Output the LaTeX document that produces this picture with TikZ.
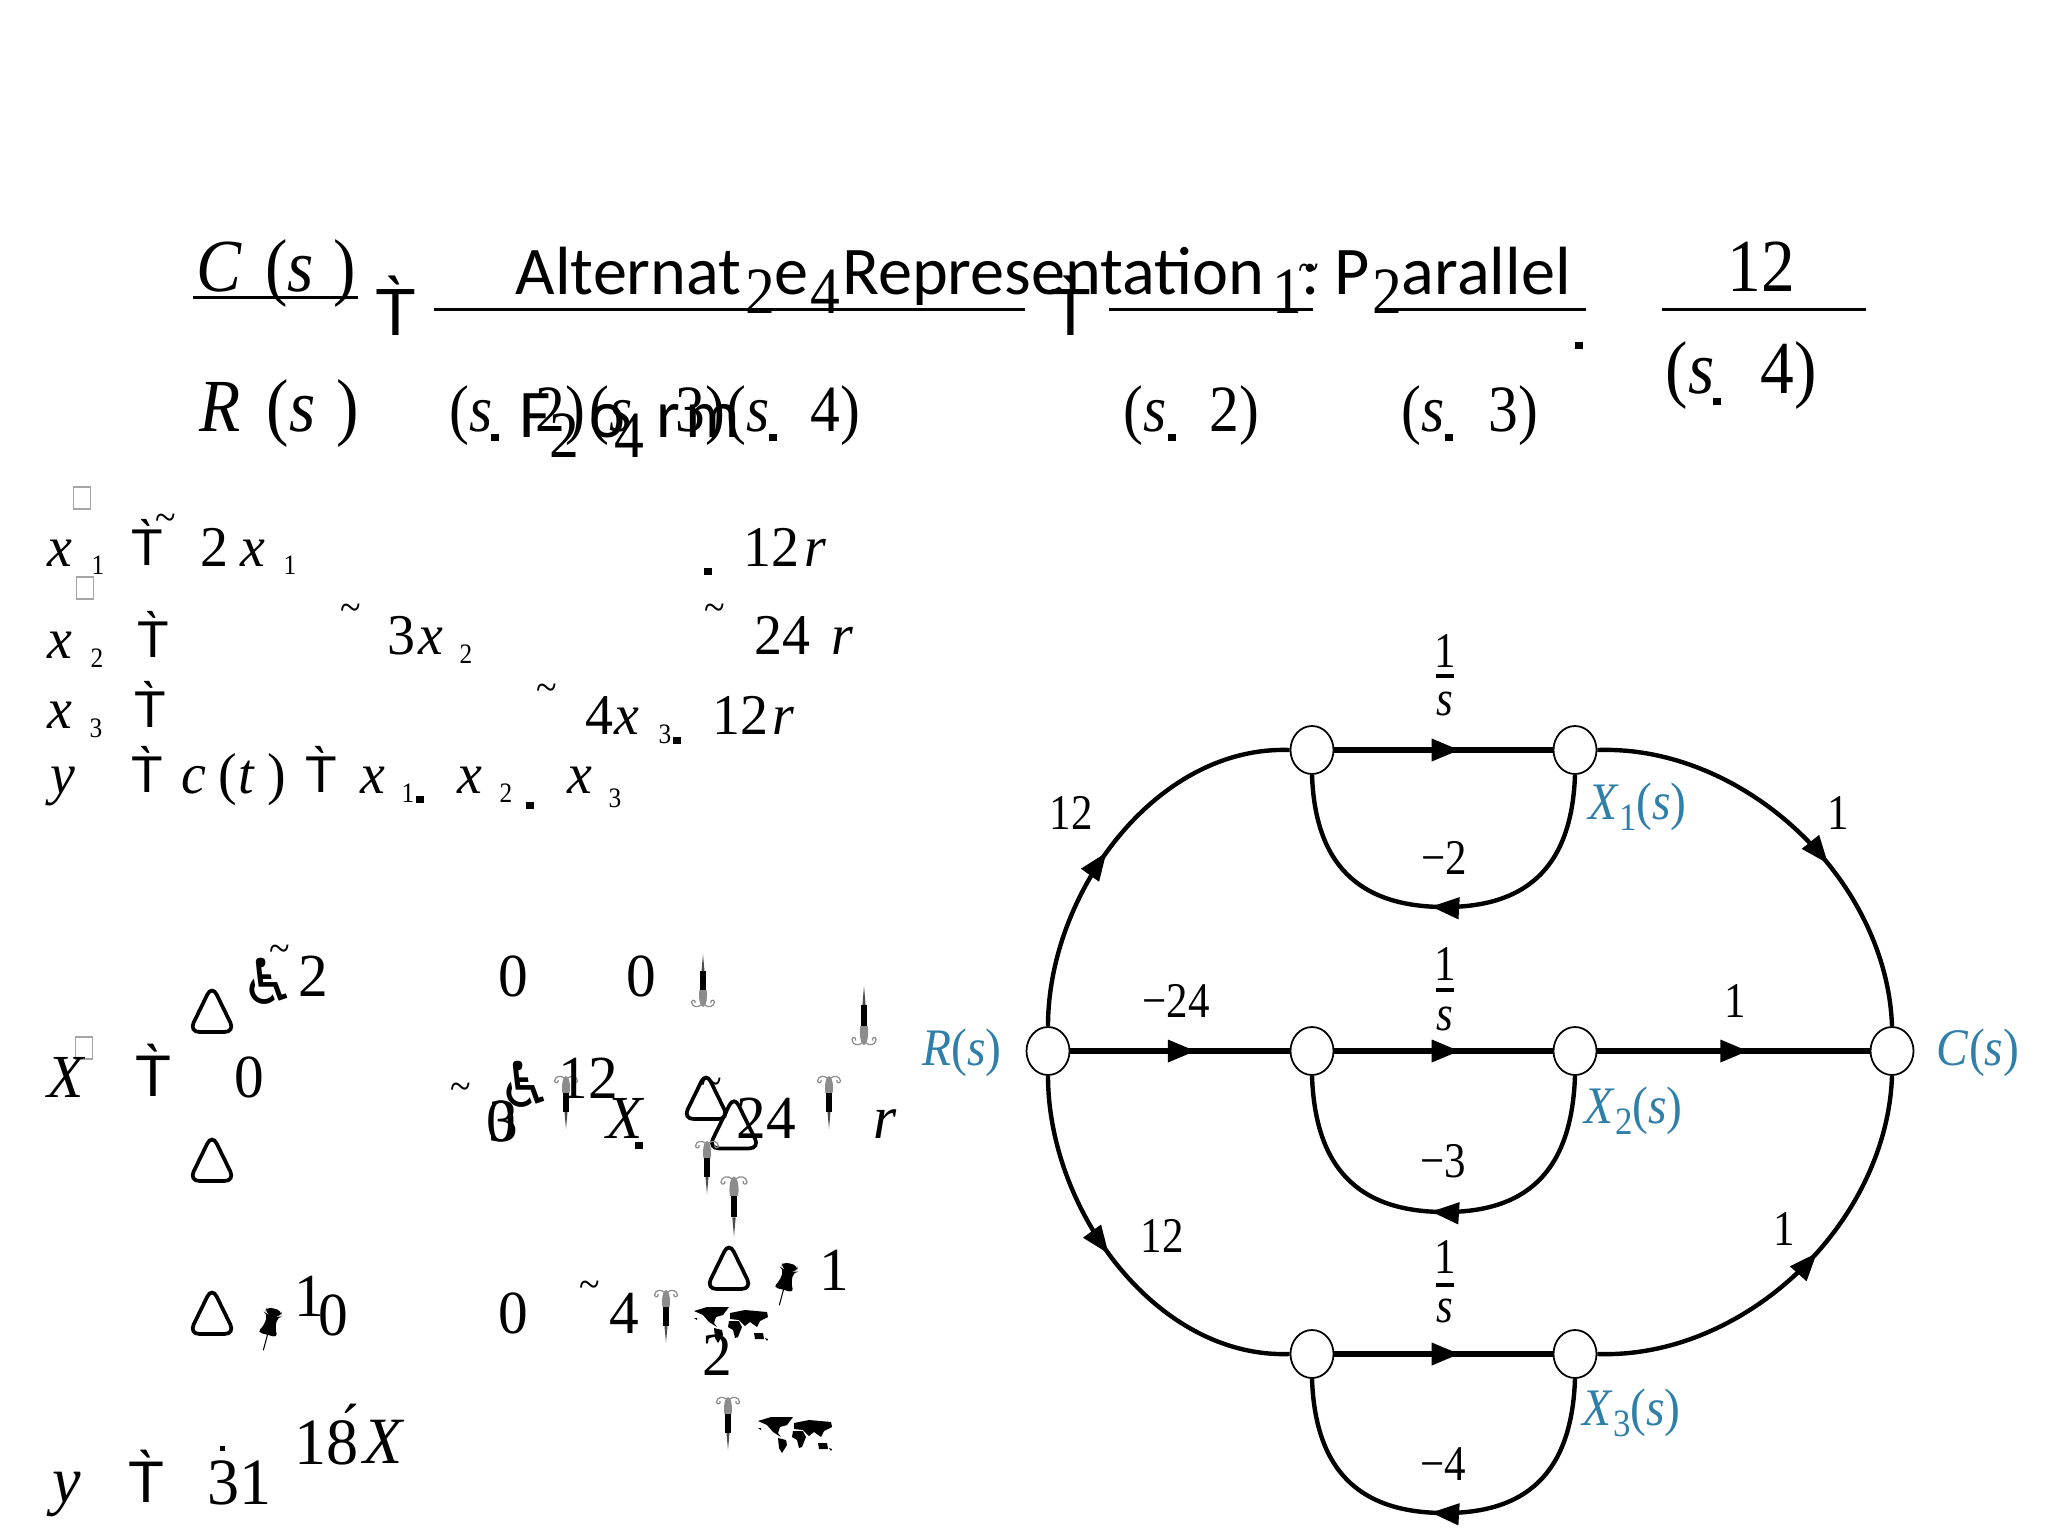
\documentclass[tikz,border=0pt]{standalone}
\usepackage{fontspec}
\usetikzlibrary{positioning, arrows.meta, decorations.markings, shapes.geometric}

\newfontfamily\eqfont[FakeStretch=0.9]{Liberation Serif}
\newfontfamily\eqwide[FakeStretch=0.97]{Liberation Serif}
\newfontfamily\gainfont[FakeStretch=0.86]{Liberation Serif}
\newfontfamily\slidefont{Carlito}
\newfontfamily\teefont{Liberation Sans}
\newfontfamily\symfont{DejaVu Sans}

\definecolor{siglabelblue}{HTML}{2F7FA8}

% one-over-s gain: name, x, baseline of the 1, bar, baseline of the s
\newcommand{\oversgain}[5]{%
  \node[gain, anchor=base] (#1one) at (#2,#3) {1};
  \node[gain, anchor=base] (#1s) at (#2,#5) {\textit{s}};
  \draw[line width=0.9pt] (#2-9,#4) -- (#2+9,#4);
}

\tikzset{
  eqa/.style={inner sep=0, anchor=base west, font=\eqfont\fontsize{21.3}{24}\selectfont},
  eqb/.style={inner sep=0, anchor=base west, font=\eqfont\fontsize{18.8}{22}\selectfont},
  eqc/.style={inner sep=0, anchor=base west, font=\eqwide\fontsize{16.4}{19}\selectfont},
  eqd/.style={inner sep=0, anchor=base west, font=\eqwide\fontsize{17.4}{20}\selectfont},
  eqe/.style={inner sep=0, anchor=base west, font=\eqwide\fontsize{18.8}{22}\selectfont},
  eqsub/.style={inner sep=0, anchor=base west, font=\eqfont\fontsize{8}{9}\selectfont},
  teea/.style={inner sep=0, anchor=base west, font=\teefont\fontsize{19}{24}\selectfont},
  teec/.style={inner sep=0, anchor=base west, font=\teefont\fontsize{14.7}{19}\selectfont},
  teed/.style={inner sep=0, anchor=base west, font=\teefont\fontsize{16.7}{22}\selectfont},
  tildemk/.style={inner sep=0, yshift=-1.5pt, font=\eqfont\fontsize{12}{13}\selectfont},
  dotmk/.style={fill=black, inner sep=0, minimum width=0.8mm, minimum height=0.7mm},
  hollowbox/.style={draw=black!35, line width=0.4pt, inner sep=0, minimum width=1.7mm, minimum height=2.2mm},
  fracbar/.style={line width=0.85pt},
  chair/.style={inner sep=0, font=\symfont\fontsize{18}{20}\selectfont},
  signode/.style={ellipse, draw, line width=0.5pt, fill=white, inner sep=0, minimum width=4.3mm, minimum height=4.8mm},
  gain/.style={inner sep=0, font=\gainfont\fontsize{14.2}{16}\selectfont},
  siglabel/.style={inner sep=0, text=siglabelblue, font=\eqfont\fontsize{15}{17}\selectfont},
  flow/.style={line width=1.25pt},
  straight/.style={line width=1.7pt},
  arrowat/.style={postaction={decorate}, decoration={markings,
    mark=at position #1 with {\arrow{Triangle[length=8pt,width=6pt]}}}},
  penmark/.pic={
    \fill[black!45] (-3.5,-9) .. controls (-5,-16) and (-3,-26) .. (0,-26) .. controls (3,-26) and (5,-16) .. (3.5,-9) -- cycle;
    \draw[black!45, line width=0.35pt]
      (-2,-24) .. controls (-5,-27) and (-11,-26) .. (-11.5,-21) .. controls (-11,-18) and (-7,-19) .. (-8,-22)
      (2,-24) .. controls (5,-27) and (11,-26) .. (11.5,-21) .. controls (11,-18) and (7,-19) .. (8,-22);
    \fill (-3,-9) rectangle (3,10);
    \fill[black!70] (-1.5,10) -- (0,27) -- (1.5,10) -- cycle;
  },
  pinmark/.pic={
    \fill[rotate=-15, rounded corners=1.4pt] (-8,-21) -- (8,-21) -- (8,-15) -- (5,-14) -- (6,-1) -- (11,6) -- (-11,6) -- (-6,-1) -- (-5,-14) -- (-8,-15) -- cycle;
    \draw[rotate=-15, line width=0.3pt] (0,6) -- (0,22);
  },
  trimark/.pic={
    \draw[line width=1.05pt, rounded corners=3pt] (-23,20) -- (0,-27) -- (23,20) -- cycle;
  },
  mapmark/.pic={
    \fill (-37,-13) -- (-24,-17) -- (-2,-17) -- (-8,-9) -- (-15,-7) -- (-17,-1) -- (-14,3) -- (-22,-2) -- (-28,-9) -- cycle;
    \fill (-17,4) -- (-9,6) -- (-8,11) -- (-13,19) -- (-16,14) -- cycle;
    \fill (-1,-11) -- (14,-14) -- (36,-12) -- (37,-7) -- (29,-3) -- (26,3) -- (19,-2) -- (14,2) -- (8,-4) -- (-1,-5) -- cycle;
    \fill (-2,-3) -- (8,-3) -- (11,3) -- (7,13) -- (4,14) -- (2,6) -- (-3,3) -- cycle;
    \fill (23,9) -- (32,9) -- (33,15) -- (24,15) -- cycle;
    \fill (-37,-6) -- (-34,-6) -- (-34,-4) -- cycle;
    \fill (34,14) -- (37,15) -- (36,17) -- cycle;
  }
}

\begin{document}
\begin{tikzpicture}[x=0.01cm, y=-0.01cm]

\useasboundingbox (0,0) rectangle (2048,1536);

% -------------------------
% Transfer function line
% -------------------------

\node[eqa] (cnum) at (196,291) {\textit{C}};
\node[eqa] (cnumpl) at (265,291) {(};
\node[eqa] (cnums) at (287,291) {\textit{s}};
\node[eqa] (cnumpr) at (333,291) {)};
\node[eqa] (rden) at (199,431) {\textit{R}};
\node[eqa] (rdenpl) at (266,431) {(};
\node[eqa] (rdens) at (289,431) {\textit{s}};
\node[eqa] (rdenpr) at (336,431) {)};
\coordinate (crl) at (193,297);
\coordinate (crr) at (358,297);
\draw[fracbar] (crl) -- (crr);

\node[teea] (tee1) at (375,335) {T̀};
\node[teea] (tee2) at (1050,335) {T̀};

\coordinate (barAl) at (434,309);
\coordinate (barAr) at (1025,309);
\coordinate (barBl) at (1109,309);
\coordinate (barBr) at (1313,309);
\coordinate (barCl) at (1396,309);
\coordinate (barCr) at (1586,309);
\coordinate (barDl) at (1662,309);
\coordinate (barDr) at (1866,309);
\draw[fracbar] (barAl) -- (barAr);
\draw[fracbar] (barBl) -- (barBr);
\draw[fracbar] (barCl) -- (barCr);
\draw[fracbar] (barDl) -- (barDr);

\node[eqb] (numAa) at (745,313) {2};
\node[eqb] (numAb) at (810,313) {4};
\node[eqb] (numBa) at (1272,313) {1};
\node[eqb] (numBb) at (1372,313) {2};
\node[tildemk] (tilBa) at (1309,268) {\textasciitilde};
\node[eqa] (numD) at (1727,291) {12};

% denominators
\node[eqb] (denAa) at (449,431) {(\textit{s}};
\node[dotmk] (dotAa) at (495,437) {};
\node[eqb] (denAb) at (535,431) {2)};
\node[eqb] (denAc) at (589,431) {(\textit{s}};
\node[eqb] (denAd) at (675,431) {3)};
\node[eqb] (denAe) at (726,431) {(\textit{s}};
\node[dotmk] (dotAb) at (773,437) {};
\node[eqb] (denAf) at (810,431) {4)};
\node[eqb] (denBa) at (1123,431) {(\textit{s}};
\node[dotmk] (dotBa) at (1172,437) {};
\node[eqb] (denBb) at (1209,431) {2)};
\node[eqb] (denCa) at (1401,431) {(\textit{s}};
\node[dotmk] (dotCa) at (1449,437) {};
\node[eqb] (denCb) at (1488,431) {3)};
\node[dotmk] (dotCb) at (1579,345) {};
\node[eqa] (denDa) at (1665,393) {(\textit{s}};
\node[dotmk] (dotDa) at (1717,401) {};
\node[eqa] (denDb) at (1760,393) {4)};

% -------------------------
% Slide heading
% -------------------------

\node[inner sep=0, anchor=base west, align=left, font=\slidefont\fontsize{19.4}{40.4}\selectfont] (heading) at (515,437)
  {Alternat\hspace{9.5pt}e\hspace{9.5pt}Representation\hspace{10.5pt}:\hspace{4.3pt}P\hspace{9.1pt}arallel\\
   \hspace*{1pt}F\hspace{11pt}o\hspace{9pt}r\hspace{1.5pt}m};
\node[eqb] (subA) at (549,457) {2};
\node[eqb] (subB) at (614,457) {4};

% -------------------------
% State equations
% -------------------------

\node[hollowbox] (boxA) at (82,498) {};
\node[hollowbox] (boxB) at (85,588) {};

\node[eqc] (xa) at (47,566) {\textit{x}};
\node[eqsub] (xasub) at (91,574) {1};
\node[teec] (teeA) at (131,565) {T̀};
\node[tildemk] (tilA) at (166,518) {\textasciitilde};
\node[eqc] (xaB) at (200,566) {2};
\node[eqc] (xaC) at (240,566) {\textit{x}};
\node[eqsub] (xaCsub) at (283,574) {1};
\node[dotmk] (xadot) at (708,571) {};
\node[eqc] (xaD) at (743,566) {12};
\node[eqc] (xaE) at (804,566) {\textit{r}};

\node[eqc] (xb) at (47,658) {\textit{x}};
\node[eqsub] (xbsub) at (90,667) {2};
\node[teec] (teeB) at (137,657) {T̀};
\node[tildemk] (tilB) at (351,607) {\textasciitilde};
\node[eqc] (xbB) at (387,654) {3};
\node[eqc] (xbBb) at (418,654) {\textit{x}};
\node[eqsub] (xbBsub) at (459,663) {2};
\node[tildemk] (tilC) at (715,607) {\textasciitilde};
\node[eqc] (xbC) at (754,654) {24};
\node[eqc] (xbD) at (831,654) {\textit{r}};

\node[eqc] (xc) at (47,728) {\textit{x}};
\node[eqsub] (xcsub) at (89,737) {3};
\node[teec] (teeC) at (134,727) {T̀};
\node[tildemk] (tilD) at (547,687) {\textasciitilde};
\node[eqc] (xcB) at (585,734) {4};
\node[eqc] (xcBb) at (614,734) {\textit{x}};
\node[eqsub] (xcBsub) at (658,743) {3};
\node[dotmk] (xcdot) at (677,740) {};
\node[eqc] (xcC) at (712,734) {12};
\node[eqc] (xcD) at (772,734) {\textit{r}};

\node[eqc] (ya) at (50,793) {\textit{y}};
\node[teec] (teeD) at (131,792) {T̀};
\node[eqc] (yaB) at (181,793) {\textit{c}};
\node[eqc] (yaC) at (218,793) {(};
\node[eqc] (yaCt) at (238,793) {\textit{t}};
\node[eqc] (yaCr) at (267,793) {)};
\node[teec] (teeE) at (305,792) {T̀};
\node[eqc] (yaD) at (360,793) {\textit{x}};
\node[eqsub] (yaDsub) at (401,802) {1};
\node[dotmk] (yadotA) at (420,799) {};
\node[eqc] (yaE) at (457,793) {\textit{x}};
\node[eqsub] (yaEsub) at (499,802) {2};
\node[dotmk] (yadotB) at (530,805) {};
\node[eqc] (yaF) at (567,793) {\textit{x}};
\node[eqsub] (yaFsub) at (608,807) {3};

% -------------------------
% Matrix form, with the broken glyphs
% -------------------------

\node[hollowbox] (boxC) at (84,1048) {};
\node[eqd] (bigX) at (47,1097) {\textit{X}};
\node[teed] (teeF) at (135,1096) {T̀};

\pic at (212,1012) {trimark};
\pic at (212,1161) {trimark};
\pic at (212,1314) {trimark};
\pic at (706,1099) {trimark};
\pic[scale=1.12] at (734,1126) {trimark};
\pic at (729,1269) {trimark};

\node[tildemk] (tilE) at (280,948) {\textasciitilde};
\node[chair] (chairA) at (269,981) {♿};
\node[eqd] (ma) at (298,996) {2};
\node[eqd] (mb) at (498,996) {0};
\node[eqd] (mc) at (626,996) {0};
\pic[yscale=-1] at (703,981) {penmark};
\pic[yscale=-1.12, xscale=1.05] at (864,1016) {penmark};

\node[eqd] (md) at (234,1097) {0};
\node[tildemk] (tilF) at (461,1086) {\textasciitilde};
\node[eqd] (me) at (486,1141) {0};
\node[eqd] (mf) at (488,1141) {3};
\node[chair] (chairB) at (526,1084) {♿};
\pic at (566,1102) {penmark};
\node[eqd] (mg) at (558,1098) {12};
\node[eqd] (mh) at (606,1138) {\textit{X}};
\node[dotmk] (mdot) at (639,1145) {};
\node[tildemk] (tilG) at (712,1081) {\textasciitilde};
\node[eqd] (mi) at (736,1138) {24};
\pic at (829,1102) {penmark};
\node[eqd] (mj) at (873,1138) {\textit{r}};
\pic at (707,1167) {penmark};
\pic[scale=1.14] at (734,1206) {penmark};

\pic at (785,1284) {pinmark};
\node[eqd] (mk) at (819,1290) {1};
\pic at (269,1329) {pinmark};
\node[eqd] (ml) at (294,1316) {1};
\node[eqd] (mm) at (318,1335) {0};
\node[eqd] (mn) at (498,1333) {0};
\node[tildemk] (tilH) at (590,1284) {\textasciitilde};
\node[eqd] (mo) at (609,1333) {4};
\pic at (666,1316) {penmark};
\pic at (731,1324) {mapmark};
\node[eqd] (mp) at (702,1375) {2};
\pic at (728,1423) {penmark};
\pic at (795,1434) {mapmark};

\node[eqe] (yb) at (52,1502) {\textit{y}};
\node[teed] (teeG) at (128,1502) {T̀};
\node[eqe] (ybB) at (207,1504) {31};
\node[dotmk, minimum width=0.5mm, minimum height=0.5mm] (ybdot) at (222,1448) {};
\node[eqe] (ybC) at (294,1464) {18};
\node[eqe] (ybD) at (363,1463) {\textit{X}};
\node[inner sep=0, font=\eqfont\fontsize{18}{20}\selectfont] (ybacute) at (350,1432) {\'{}};

% -------------------------
% Signal-flow graph
% -------------------------

\node[signode] (Rs) at (1048,1051) {};
\node[signode] (Ca) at (1312,750) {};
\node[signode] (Cb) at (1312,1051) {};
\node[signode] (Cc) at (1312,1354) {};
\node[signode] (Xa) at (1575,750) {};
\node[signode] (Xb) at (1575,1051) {};
\node[signode] (Xc) at (1575,1354) {};
\node[signode] (Cs) at (1892,1051) {};

\coordinate (loopa) at (1445,907);
\coordinate (loopb) at (1445,1212);
\coordinate (loopc) at (1445,1513);

\draw[straight, arrowat=0.575] (Ca) -- (Xa);
\draw[straight, arrowat=0.573] (Rs) -- (Cb);
\draw[straight, arrowat=0.575] (Cb) -- (Xb);
\draw[straight, arrowat=0.555] (Xb) -- (Cs);
\draw[straight, arrowat=0.575] (Cc) -- (Xc);

\draw[flow, arrowat=0.46] (Rs.north) to[out=90, in=178, looseness=0.93] (Ca.west);
\draw[flow, arrowat=0.60] (Xa.east) to[out=2, in=92, looseness=0.93] (Cs.north);
\draw[flow, arrowat=0.47] (Rs.south) to[out=-90, in=182, looseness=0.93] (Cc.west);
\draw[flow, arrowat=0.56] (Xc.east) to[out=-2, in=-92, looseness=0.93] (Cs.south);

\draw[flow, arrowat=0.53] (Xa.south) to[out=-92, in=0, looseness=1.2] (loopa) to[out=180, in=-88, looseness=1.2] (Ca.south);
\draw[flow, arrowat=0.53] (Xb.south) to[out=-92, in=0, looseness=1.2] (loopb) to[out=180, in=-88, looseness=1.2] (Cb.south);
\draw[flow, arrowat=0.53] (Xc.south) to[out=-92, in=0, looseness=1.2] (loopc) to[out=180, in=-88, looseness=1.2] (Cc.south);

% gains
\oversgain{ga}{1445}{667}{676}{715}
\oversgain{gb}{1445}{980}{990}{1030}
\oversgain{gc}{1445}{1273}{1285}{1322}

\node[gain, anchor=base] (gA) at (1071,829) {12};
\node[gain, anchor=base] (gB) at (1838,829) {1};
\node[gain, anchor=base] (gC) at (1444,874) {−2};
\node[gain, anchor=base] (gD) at (1176,1017) {−24};
\node[gain, anchor=base] (gE) at (1735,1017) {1};
\node[gain, anchor=base] (gF) at (1443,1177) {−3};
\node[gain, anchor=base] (gG) at (1162,1252) {12};
\node[gain, anchor=base] (gH) at (1784,1245) {1};
\node[gain, anchor=base] (gI) at (1443,1480) {−4};

% blue labels
\node[siglabel, anchor=base] (lblR) at (962,1065) {\textit{R}(\textit{s})};
\node[siglabel, anchor=base] (lblC) at (1978,1065) {\textit{C}(\textit{s})};
\node[siglabel, anchor=base west] (lblXa) at (1588,819) {\textit{X}\raisebox{-0.22em}{\fontsize{11}{12}\selectfont 1}(\textit{s})};
\node[siglabel, anchor=base west] (lblXb) at (1584,1123) {\textit{X}\raisebox{-0.22em}{\fontsize{11}{12}\selectfont 2}(\textit{s})};
\node[siglabel, anchor=base west] (lblXc) at (1582,1425) {\textit{X}\raisebox{-0.22em}{\fontsize{11}{12}\selectfont 3}(\textit{s})};

\end{tikzpicture}
\end{document}
